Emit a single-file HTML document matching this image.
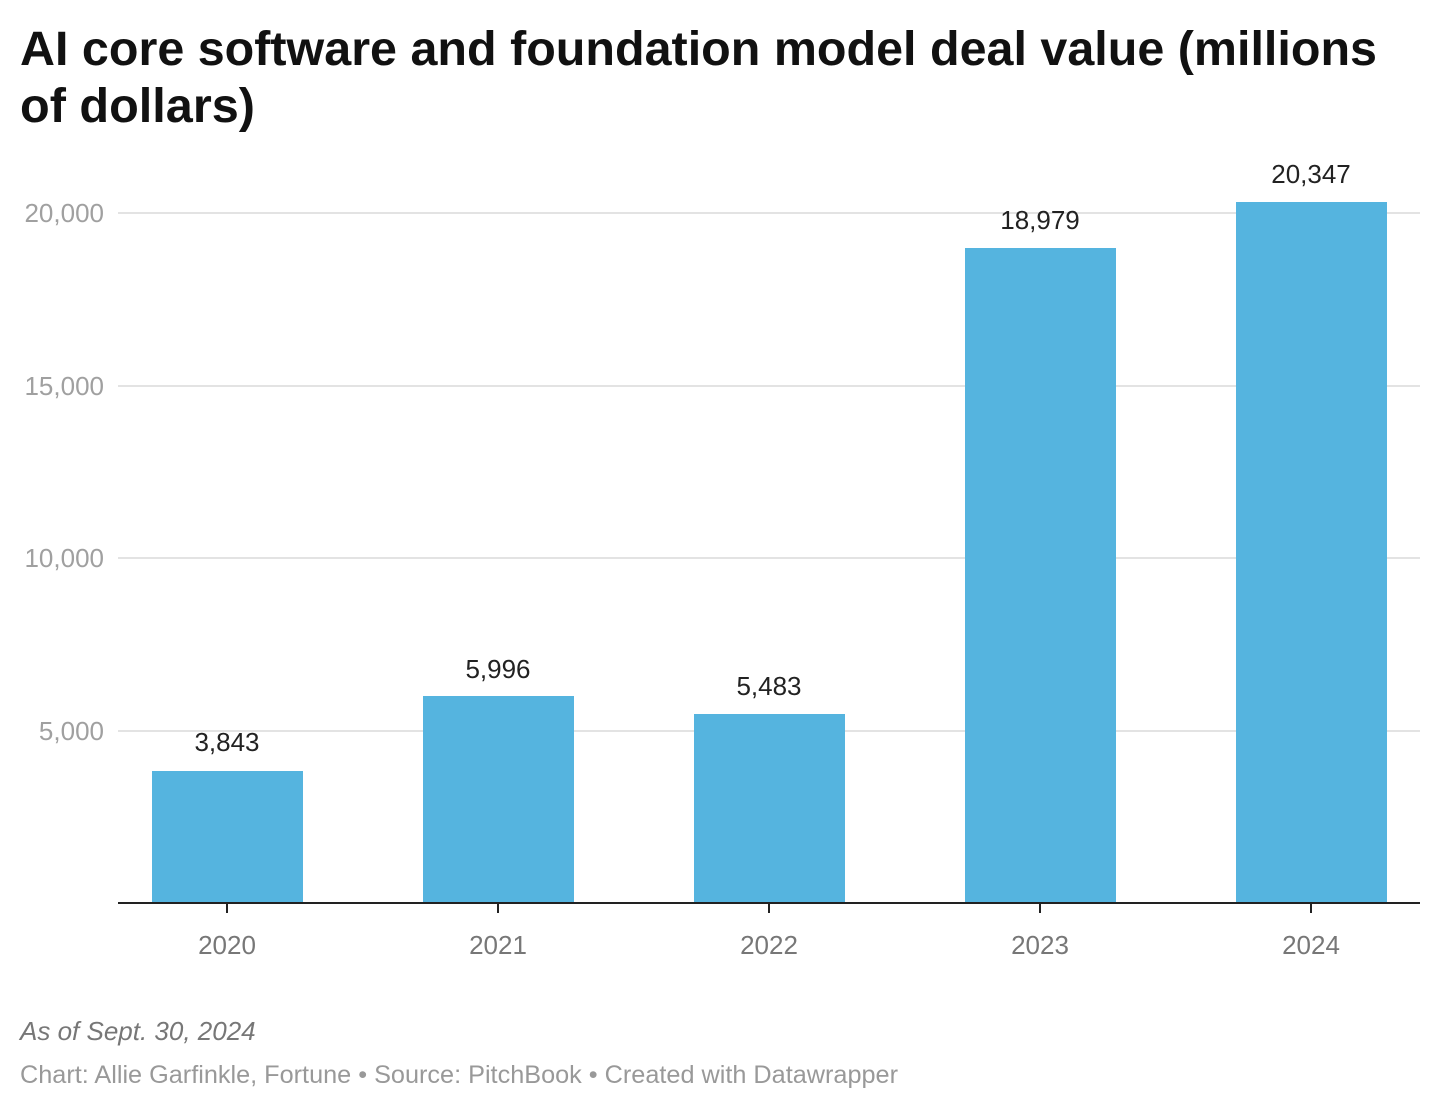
<!DOCTYPE html>
<html><head><meta charset="utf-8"><style>
body{margin:0;background:#fff;width:1439px;height:1110px;overflow:hidden;font-family:"Liberation Sans",sans-serif;}
</style></head><body>
<svg width="1439" height="1110" xmlns="http://www.w3.org/2000/svg" font-family="Liberation Sans, sans-serif">
<text x="20" y="65" font-size="48" font-weight="bold" fill="#111" textLength="1357" lengthAdjust="spacingAndGlyphs">AI core software and foundation model deal value (millions</text>
<text x="20" y="122" font-size="48" font-weight="bold" fill="#111" textLength="235" lengthAdjust="spacingAndGlyphs">of dollars)</text>
<g stroke="#e3e3e3" stroke-width="2">
<line x1="118" x2="1420" y1="213" y2="213"/>
<line x1="118" x2="1420" y1="386" y2="386"/>
<line x1="118" x2="1420" y1="558" y2="558"/>
<line x1="118" x2="1420" y1="731" y2="731"/>
</g>
<g font-size="26" fill="#a0a0a0" text-anchor="end">
<text x="104" y="222">20,000</text>
<text x="104" y="395">15,000</text>
<text x="104" y="567">10,000</text>
<text x="104" y="740">5,000</text>
</g>
<g fill="#55b4df">
<rect x="152" y="771" width="151" height="132"/>
<rect x="423" y="696" width="151" height="207"/>
<rect x="694" y="714" width="151" height="189"/>
<rect x="965" y="248" width="151" height="655"/>
<rect x="1236" y="202" width="151" height="701"/>
</g>
<line x1="118" x2="1420" y1="903" y2="903" stroke="#222" stroke-width="2"/>
<g stroke="#222" stroke-width="2">
<line x1="227" x2="227" y1="903" y2="913"/>
<line x1="498" x2="498" y1="903" y2="913"/>
<line x1="769" x2="769" y1="903" y2="913"/>
<line x1="1040" x2="1040" y1="903" y2="913"/>
<line x1="1311" x2="1311" y1="903" y2="913"/>
</g>
<g font-size="26" fill="#222" text-anchor="middle">
<text x="227" y="751">3,843</text>
<text x="498" y="678">5,996</text>
<text x="769" y="695">5,483</text>
<text x="1040" y="229">18,979</text>
<text x="1311" y="183">20,347</text>
</g>
<g font-size="26" fill="#777" text-anchor="middle">
<text x="227" y="954">2020</text>
<text x="498" y="954">2021</text>
<text x="769" y="954">2022</text>
<text x="1040" y="954">2023</text>
<text x="1311" y="954">2024</text>
</g>
<text x="20" y="1040" font-size="26" font-style="italic" fill="#777">As of Sept. 30, 2024</text>
<text x="20" y="1083" font-size="25" fill="#999" textLength="878" lengthAdjust="spacingAndGlyphs">Chart: Allie Garfinkle, Fortune • Source: PitchBook • Created with Datawrapper</text>
</svg>
</body></html>
